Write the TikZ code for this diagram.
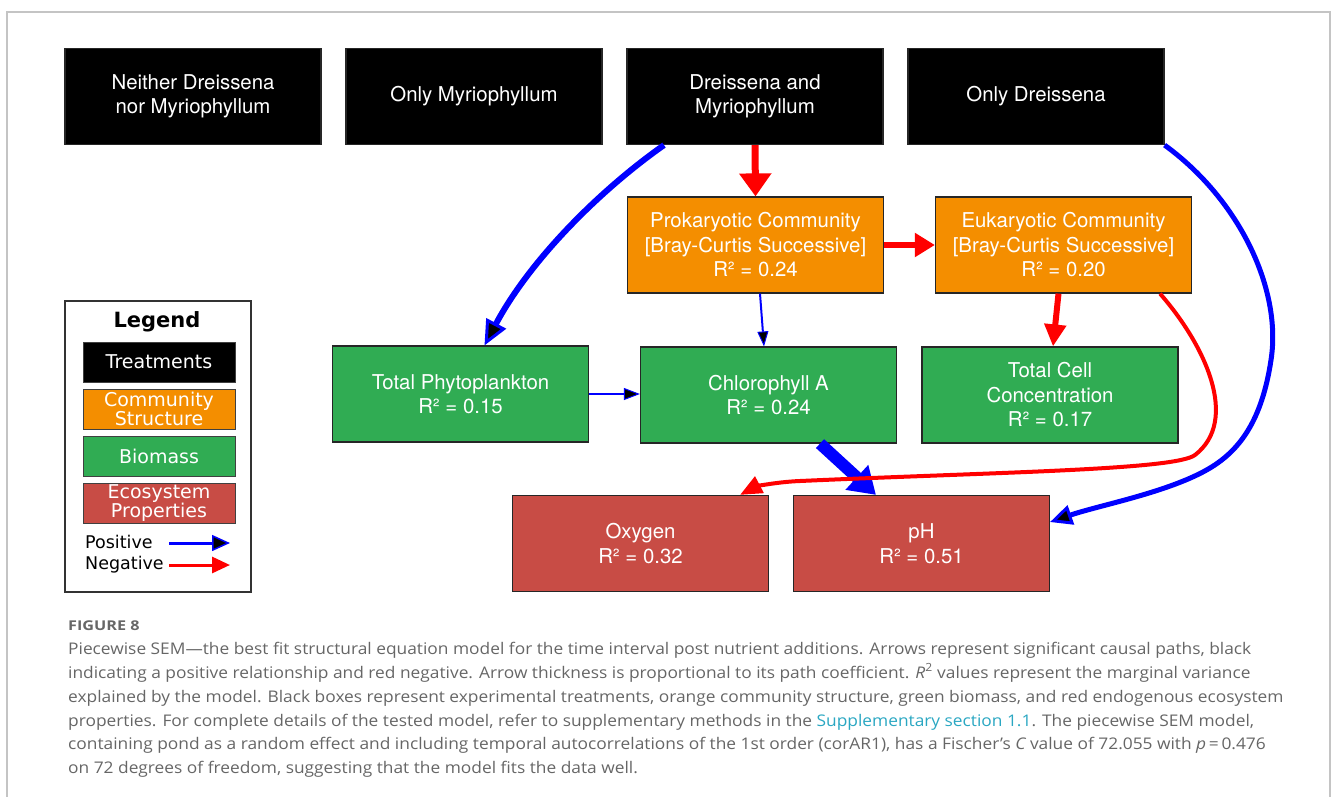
\documentclass[tikz,border=0pt]{standalone}
\usepackage{fontspec}
\setmainfont{TeX Gyre Heros}
\newfontfamily\legfont{DejaVu Sans}
\newfontfamily\capfont[FakeStretch=1.08]{Open Sans}
\newfontfamily\figlabfont[FakeStretch=1.2]{Open Sans}
\usetikzlibrary{arrows.meta}
\definecolor{commcol}{HTML}{F48E00}
\definecolor{biocol}{HTML}{30AC53}
\definecolor{ecocol}{HTML}{C84C45}
\definecolor{capgray}{HTML}{666666}
\definecolor{linkcol}{HTML}{2AA7C2}
\definecolor{framecol}{HTML}{C4C4C4}
\definecolor{posblue}{HTML}{0000FF}
\definecolor{negred}{HTML}{FF0000}
\begin{document}
\begin{tikzpicture}[x=1pt,y=-1pt,
  nodebox/.style={draw=black!85, line width=1.2pt, text=white,
    font=\fontsize{20.4}{24.5}\selectfont, align=center, inner sep=0pt,
    minimum width=256pt, minimum height=96pt},
  treat/.style={nodebox, fill=black},
  comm/.style={nodebox, fill=commcol},
  bio/.style={nodebox, fill=biocol},
  eco/.style={nodebox, fill=ecocol},
  legbox/.style={draw=black!75, line width=1pt, text=white,
    font=\legfont\fontsize{19}{17.5}\selectfont, align=center, inner sep=0pt,
    minimum width=152pt, minimum height=40pt},
  legtext/.style={anchor=west, inner sep=0pt, font=\legfont\fontsize{17.5}{20}\selectfont},
  capnode/.style={anchor=base west, inner sep=0pt, text=capgray,
    font=\capfont\fontsize{16.05}{18}\selectfont},
]
\useasboundingbox (0,0) rectangle (1331,796);
% outer frame
\draw[framecol, line width=1.2pt] (7,797) -- (7,12) -- (1330,12) -- (1330,797);

% treatments
\node[treat] (nn) at (193,96.5) {\rule{0pt}{4pt}Neither Dreissena\\nor Myriophyllum};
\node[treat] (om) at (474,96.5) {\raisebox{-2pt}{Only Myriophyllum}};
\node[treat] (dm) at (755,96.5) {\rule{0pt}{4pt}Dreissena and\\Myriophyllum};
\node[treat] (od) at (1036,96.5) {\raisebox{-2pt}{Only Dreissena}};

% community structure
\node[comm] (pro) at (755.5,245) {Prokaryotic Community\\{[}Bray-Curtis Successive{]}\\R² = 0.24};
\node[comm] (euk) at (1063.5,245) {Eukaryotic Community\\{[}Bray-Curtis Successive{]}\\R² = 0.20};

% biomass
\node[bio] (tp) at (460.5,394) {Total Phytoplankton\\R² = 0.15};
\node[bio] (chl) at (768.5,395) {Chlorophyll A\\R² = 0.24};
\node[bio] (tc) at (1050,395) {Total Cell\\Concentration\\R² = 0.17};

% ecosystem properties
\node[eco] (oxy) at (640.5,543.5) {Oxygen\\R² = 0.32};
\node[eco] (ph) at (921.5,543.5) {pH\\R² = 0.51};

% edges
\draw[negred, line width=7pt, -{Triangle[length=23pt,width=31pt]}]
  (dm.south) -- (pro.north);
\draw[negred, line width=6.5pt, -{Triangle[length=20pt,width=23pt]}]
  (pro.east) -- (euk.west);
\draw[negred, line width=6pt, -{Triangle[length=22pt,width=21pt]}]
  ([xshift=-5pt]euk.south) -- ([xshift=3pt]tc.north);
\draw[posblue, line width=2pt, -{Triangle[length=15pt,width=11pt,line width=1pt,fill=black]}]
  ([xshift=4.5pt]pro.south) -- ([xshift=-4.5pt]chl.north);
\draw[posblue, line width=2pt, -{Triangle[length=16pt,width=12pt,line width=1pt,fill=black]}]
  (tp.east) -- ([yshift=1pt]chl.west);
\draw[posblue, line width=6pt, -{Triangle[length=25pt,width=22pt,line width=3pt,fill=black]}]
  ([xshift=-91pt]dm.south) .. controls (600,190) and (530,260) .. ([xshift=24pt]tp.north);
\draw[posblue, line width=12pt, -{Triangle[length=26pt,width=32pt]}]
  ([xshift=51.5pt]chl.south) -- ([xshift=-45.5pt]ph.north);
\draw[negred, line width=4pt, -{Triangle[length=22pt,width=18pt]}]
  ([xshift=96.5pt]euk.south) .. controls (1205,345) and (1240,420) .. (1195,455)
  .. controls (1175,470) and (1000,472) .. (800,481)
  .. controls (775,482) and (755,487) .. ([xshift=99.5pt]oxy.north);
\draw[posblue, line width=5pt, -{Triangle[length=22pt,width=20pt,line width=3pt,fill=black]}]
  (od.south east) .. controls (1240,200) and (1282,290) .. (1271,360)
  .. controls (1262,420) and (1240,450) .. (1210,468)
  .. controls (1170,492) and (1100,505) .. ([yshift=21.5pt]ph.east);

% legend
\node[draw=black!80, line width=1.5pt, minimum width=186pt, minimum height=291pt, inner sep=0pt] (legend) at (158,446.5) {};
\node[font=\legfont\bfseries\fontsize{21}{24}\selectfont, inner sep=0pt] (legtitle) at (157,322) {Legend};
\node[legbox, fill=black] (lgt) at (159,362) {Treatments};
\node[legbox, fill=commcol] (lgc) at (159,409) {Community\\Structure};
\node[legbox, fill=biocol] (lgb) at (159,456.5) {Biomass};
\node[legbox, fill=ecocol] (lge) at (159,503) {Ecosystem\\Properties};
\node[legtext] (lgpos) at (85,542) {Positive};
\node[legtext] (lgneg) at (85,565) {Negative};
\coordinate (pa) at (169,543);
\coordinate (pb) at (230,543);
\coordinate (na) at (169,565);
\coordinate (nb) at (230,565);
\draw[posblue, line width=3pt, -{Triangle[length=18pt,width=16pt,line width=1.5pt,fill=black]}] (pa) -- (pb);
\draw[negred, line width=3pt, -{Triangle[length=18pt,width=16pt]}] (na) -- (nb);

% caption
\node[capnode, font=\figlabfont\bfseries\fontsize{13.5}{15}\selectfont] (figlab) at (68,630) {FIGURE 8};
\node[capnode] (c1) at (68,654) {Piecewise SEM—the best fit structural equation model for the time interval post nutrient additions. Arrows represent significant causal paths, black};
\node[capnode] (c2) at (68,678) {indicating a positive relationship and red negative. Arrow thickness is proportional to its path coefficient. {\itshape R}\textsuperscript{2} values represent the marginal variance};
\node[capnode] (c3) at (68,702) {explained by the model. Black boxes represent experimental treatments, orange community structure, green biomass, and red endogenous ecosystem};
\node[capnode] (c4) at (68,726) {properties. For complete details of the tested model, refer to supplementary methods in the \textcolor{linkcol}{Supplementary section 1.1}. The piecewise SEM model,};
\node[capnode] (c5) at (68,749.5) {containing pond as a random effect and including temporal autocorrelations of the 1st order (corAR1), has a Fischer’s {\itshape C} value of 72.055 with {\itshape p}\,=\,0.476};
\node[capnode] (c6) at (68,773) {on 72 degrees of freedom, suggesting that the model fits the data well.};
\end{tikzpicture}
\end{document}
